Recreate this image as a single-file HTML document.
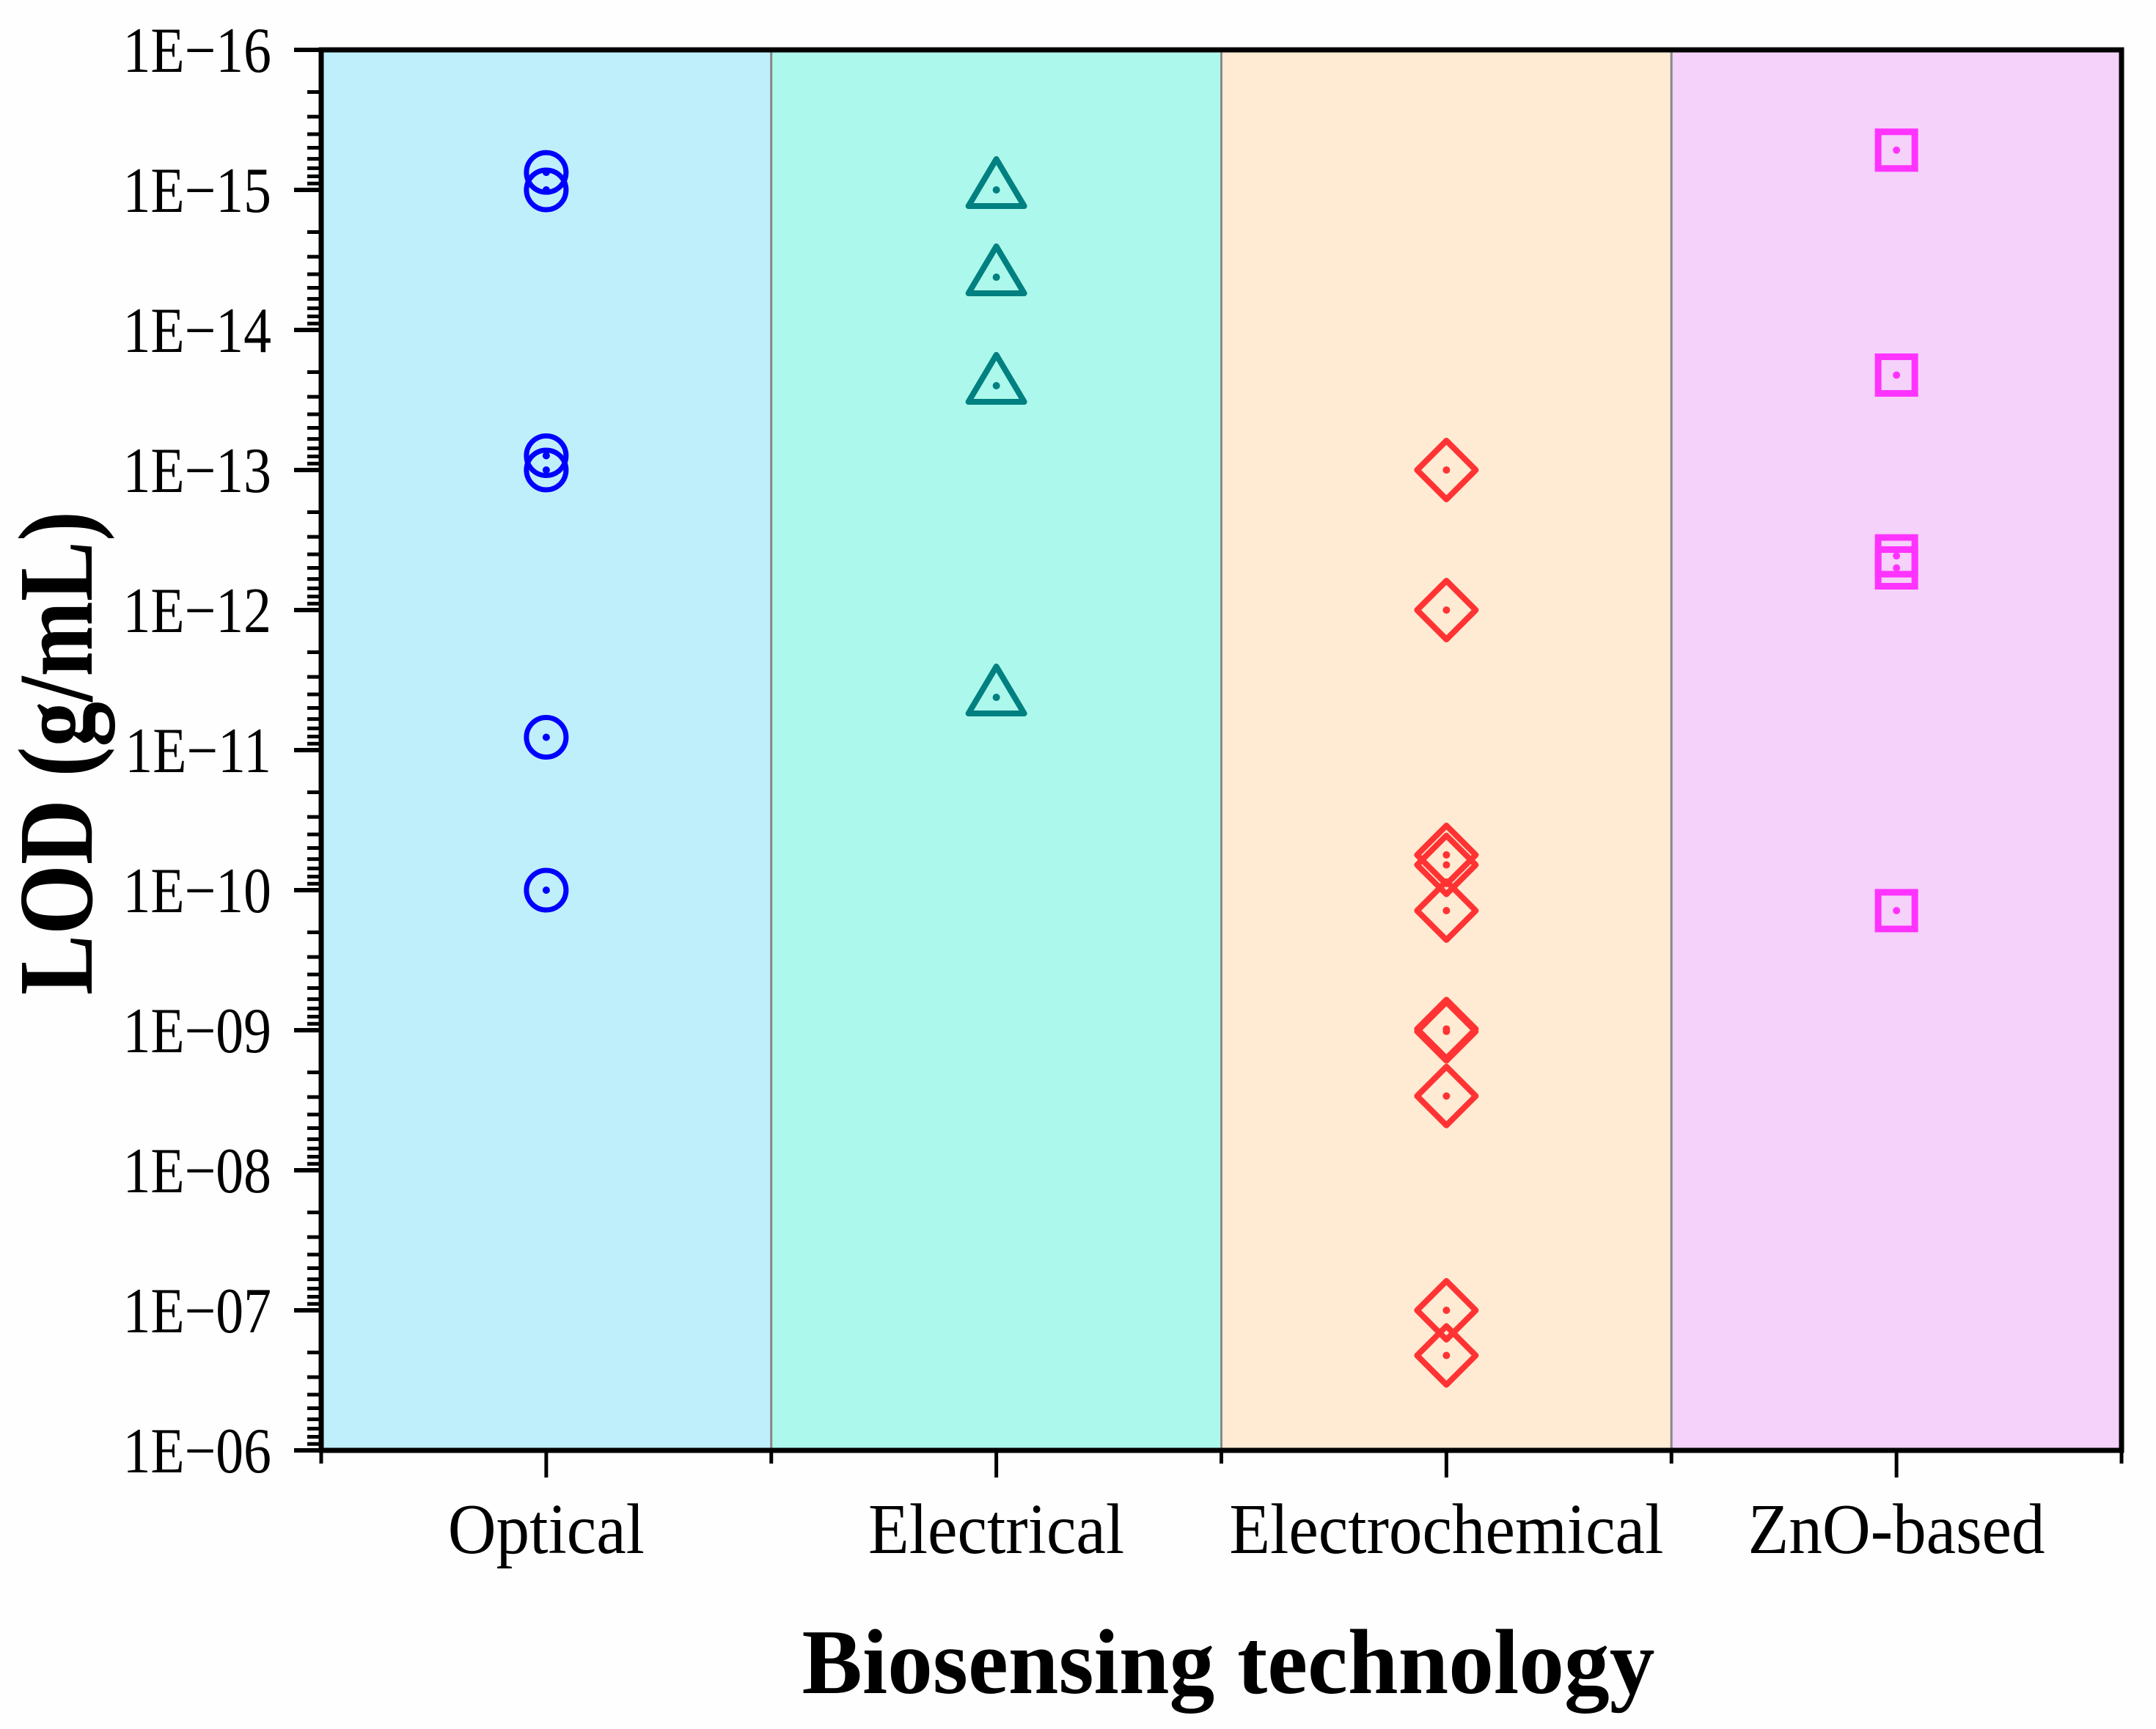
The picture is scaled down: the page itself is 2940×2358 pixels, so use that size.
<!DOCTYPE html>
<html><head><meta charset="utf-8"><style>
html,body{margin:0;padding:0;background:#fff;}
svg{display:block;font-family:"Liberation Serif",serif;}
</style></head><body>
<svg id="chart" width="2940" height="2358" viewBox="0 0 2940 2358" xmlns="http://www.w3.org/2000/svg">
<rect width="2940" height="2358" fill="#fefefe"/>
<g id="panels"></g><g id="marks"></g><g id="axes"></g>
<text transform="translate(125,1027) rotate(-90)" text-anchor="middle" font-size="145" font-weight="bold" textLength="660" lengthAdjust="spacingAndGlyphs">LOD (g/mL)</text>
<text x="1675" y="2309" text-anchor="middle" font-size="126" font-weight="bold" textLength="1163" lengthAdjust="spacingAndGlyphs">Biosensing technology</text>
</svg>
<script>
const categories = ["Optical","Electrical","Electrochemical","ZnO-based"];
const panelColors = ["#c0effc","#adf8ec","#ffebd3","#f4d2fa"];
const opticalValues = [7.5e-16, 1.0e-15, 7.9e-14, 1.0e-13, 8.1e-12, 1.0e-10];
const electricalValues = [1.0e-15, 4.2e-15, 2.5e-14, 4.2e-12];
const electrochemicalValues = [1.0e-13, 1.0e-12, 5.6e-11, 6.6e-11, 1.4e-10, 9.8e-10, 1.02e-9, 2.95e-9, 1.0e-7, 2.1e-7];
const znoValues = [5.2e-16, 2.1e-14, 4.1e-13, 5.0e-13, 1.4e-10];
const yTickExps = [-16,-15,-14,-13,-12,-11,-10,-9,-8,-7,-6];
const yTickLabels = ["1E\u221216","1E\u221215","1E\u221214","1E\u221213","1E\u221212","1E\u221211","1E\u221210","1E\u221209","1E\u221208","1E\u221207","1E\u221206"];

const NS="http://www.w3.org/2000/svg";
const L=438,R=2893,T=68,B=1978;
const bw=(R-L)/categories.length;
function xc(i){return L+bw*(i+0.5);}
function y(v){return T+(Math.log10(v)+16)/10*(B-T);}
function mk(tag,attrs,parent){const e=document.createElementNS(NS,tag);for(const k in attrs)e.setAttribute(k,attrs[k]);parent.appendChild(e);return e;}
function condense(t,f){const w=t.getComputedTextLength();t.setAttribute('textLength',w*f);t.setAttribute('lengthAdjust','spacingAndGlyphs');}
const panels=document.getElementById('panels'),marks=document.getElementById('marks'),axes=document.getElementById('axes');

categories.forEach((c,i)=>{
  const r=mk('rect',{x:L+bw*i,y:T,width:bw,height:B-T,fill:panelColors[i],stroke:'#8a8a8a','stroke-width':3},panels);
  
  
});

function dot(cx,cy,col,g){mk('circle',{cx:cx,cy:cy,r:5,fill:col},g);}
function series(vals,i,shape,col,name){
  vals.forEach((v,j)=>{
    const g=mk('g',{},marks);
    
    
    const cx=xc(i),cy=y(v);
    if(shape==='circle') mk('circle',{cx:cx,cy:cy,r:27,fill:'none',stroke:col,'stroke-width':7},g);
    if(shape==='tri') mk('polygon',{points:`${cx},${cy-42} ${cx+38},${cy+22} ${cx-38},${cy+22}`,fill:'none',stroke:col,'stroke-width':8,'stroke-linejoin':'round'},g);
    if(shape==='diamond') mk('polygon',{points:`${cx},${cy-40} ${cx+40},${cy} ${cx},${cy+40} ${cx-40},${cy}`,fill:'none',stroke:col,'stroke-width':8,'stroke-linejoin':'round'},g);
    if(shape==='square') mk('rect',{x:cx-25,y:cy-25,width:50,height:50,fill:'none',stroke:col,'stroke-width':9},g);
    dot(cx,cy,col,g);
  });
}
series(opticalValues,0,'circle','#0000ff','optical');
series(electricalValues,1,'tri','#008080','electrical');
series(electrochemicalValues,2,'diamond','#ff3333','electrochemical');
series(znoValues,3,'square','#ff33ff','zno');

let a=mk('path',{d:`M${L},${T}H${R}V${B}H${L}Z`,fill:'none',stroke:'#000','stroke-width':7},axes);


yTickExps.forEach((e,k)=>{
  const yy=y(Math.pow(10,e));
  mk('line',{x1:L-37,x2:L,y1:yy,y2:yy,stroke:'#000','stroke-width':6},axes);
  const t=mk('text',{x:370,y:yy+30,'text-anchor':'end','font-size':88},axes);
  t.textContent=yTickLabels[k];
  
  
  condense(t,0.86);
  if(e<-6){for(let m=2;m<=9;m++){const ym=y(m*Math.pow(10,e));mk('line',{x1:L-19,x2:L,y1:ym,y2:ym,stroke:'#000','stroke-width':5},axes);}}
});
for(let i=0;i<=categories.length;i++){const xx=L+bw*i;mk('line',{x1:xx,x2:xx,y1:B,y2:B+18,stroke:'#000','stroke-width':5},axes);}
categories.forEach((c,i)=>{
  mk('line',{x1:xc(i),x2:xc(i),y1:B,y2:B+37,stroke:'#000','stroke-width':5},axes);
  const t=mk('text',{x:xc(i),y:2118,'text-anchor':'middle','font-size':98},axes);
  t.textContent=c;
  
  
  condense(t,0.93);
});
</script>
</body></html>
